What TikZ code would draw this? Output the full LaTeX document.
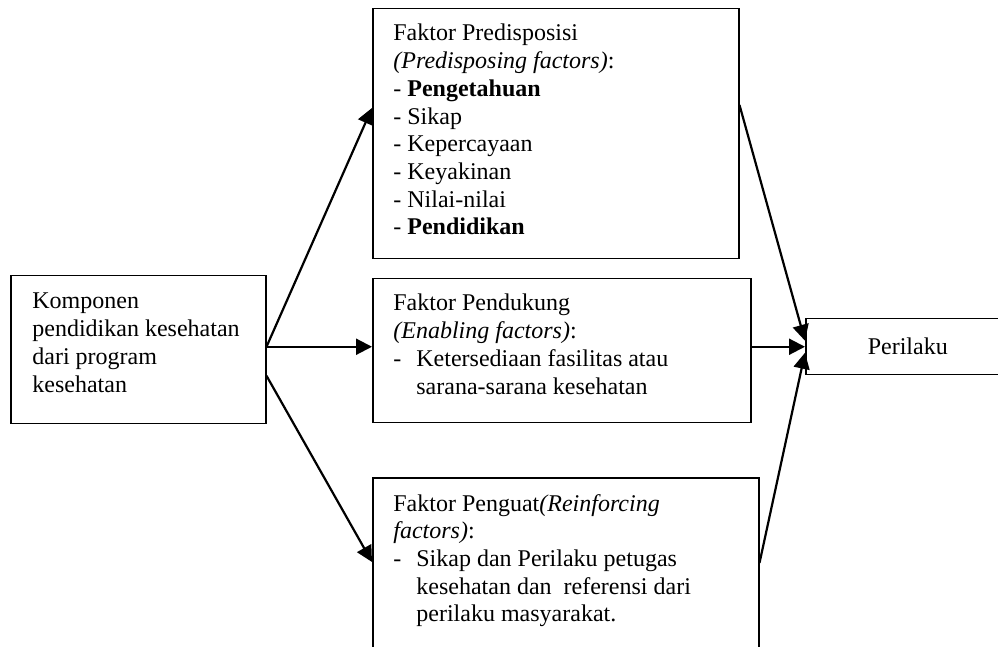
\documentclass[tikz,border=0pt]{standalone}
\usepackage{fontspec}
\setmainfont{Liberation Serif}
\usetikzlibrary{arrows.meta}

\newcommand{\tumpuk}[1]{\begin{tabular}[t]{@{}l@{}}#1\end{tabular}} % baris pertama sebagai garis dasar
\newcommand{\butir}{\makebox[11.5pt][l]{-}} % tanda strip dengan indentasi gantung
\newcommand{\gantung}{\hspace*{11.5pt}}

\tikzset{
  kotak/.style={draw, line width=0.75pt, anchor=north west, inner sep=0pt},
  isi/.style={anchor=base west, inner sep=0pt},
  panah/.style={line width=1.1pt, -{Triangle[length=8pt,width=8pt]}}
}

\begin{document}
\begin{tikzpicture}[x=0.5pt, y=-0.5pt, font=\fontsize{12pt}{13.85pt}\selectfont]
\useasboundingbox (0,0) rectangle (998,647);
\clip (0,0) rectangle (998,647); % kotak bawah dan kanan terpotong
% kotak-kotak
\node[kotak, minimum width=127.5pt, minimum height=74pt] (komponen) at (10,275) {};
\node[kotak, minimum width=183pt, minimum height=125pt] (predis) at (372,8) {};
\node[kotak, minimum width=189pt, minimum height=72pt] (pendukung) at (372,278) {};
\node[kotak, minimum width=193pt, minimum height=100pt] (penguat) at (372,477) {};
\node[kotak, minimum width=102pt, minimum height=28pt] (perilaku) at (805,318) {Perilaku};
% isi kotak
\node[isi] (tkomponen) at ([xshift=11pt,yshift=-17pt]komponen.north west)
  {\tumpuk{Komponen\\pendidikan kesehatan\\dari program\\kesehatan}};
\node[isi] (tpredis) at ([xshift=10.5pt,yshift=-16.5pt]predis.north west)
  {\tumpuk{Faktor Predisposisi\\\textit{(Predisposing factors)}:\\- \textbf{Pengetahuan}\\- Sikap\\- Kepercayaan\\- Keyakinan\\- Nilai-nilai\\- \textbf{Pendidikan}}};
\node[isi] (tpendukung) at ([xshift=10.5pt,yshift=-16.5pt]pendukung.north west)
  {\tumpuk{Faktor Pendukung\\\textit{(Enabling factors)}:\\\butir Ketersediaan fasilitas atau\\\gantung sarana-sarana kesehatan}};
\node[isi] (tpenguat) at ([xshift=10.5pt,yshift=-17pt]penguat.north west)
  {\tumpuk{Faktor Penguat\textit{(Reinforcing}\\\textit{factors)}:\\\butir Sikap dan Perilaku petugas\\\gantung kesehatan dan\ \ referensi dari\\\gantung perilaku masyarakat.}};
% panah
\draw[panah] ([yshift=1.5pt]komponen.east) -- ([yshift=-50pt]predis.north west);
\draw[panah] ([yshift=1.5pt]komponen.east) -- ([yshift=1.5pt]komponen.east -| pendukung.west);
\draw[panah] ([yshift=-13pt]komponen.east) -- ([yshift=-42.5pt]penguat.north west);
\draw[panah] ([yshift=-48.5pt]predis.north east) -- ([yshift=3pt]perilaku.west);
\draw[panah] (perilaku.west -| pendukung.east) -- (perilaku.west);
\draw[panah] ([yshift=-43pt]penguat.north east) -- ([yshift=-3pt]perilaku.west);
\end{tikzpicture}
\end{document}
